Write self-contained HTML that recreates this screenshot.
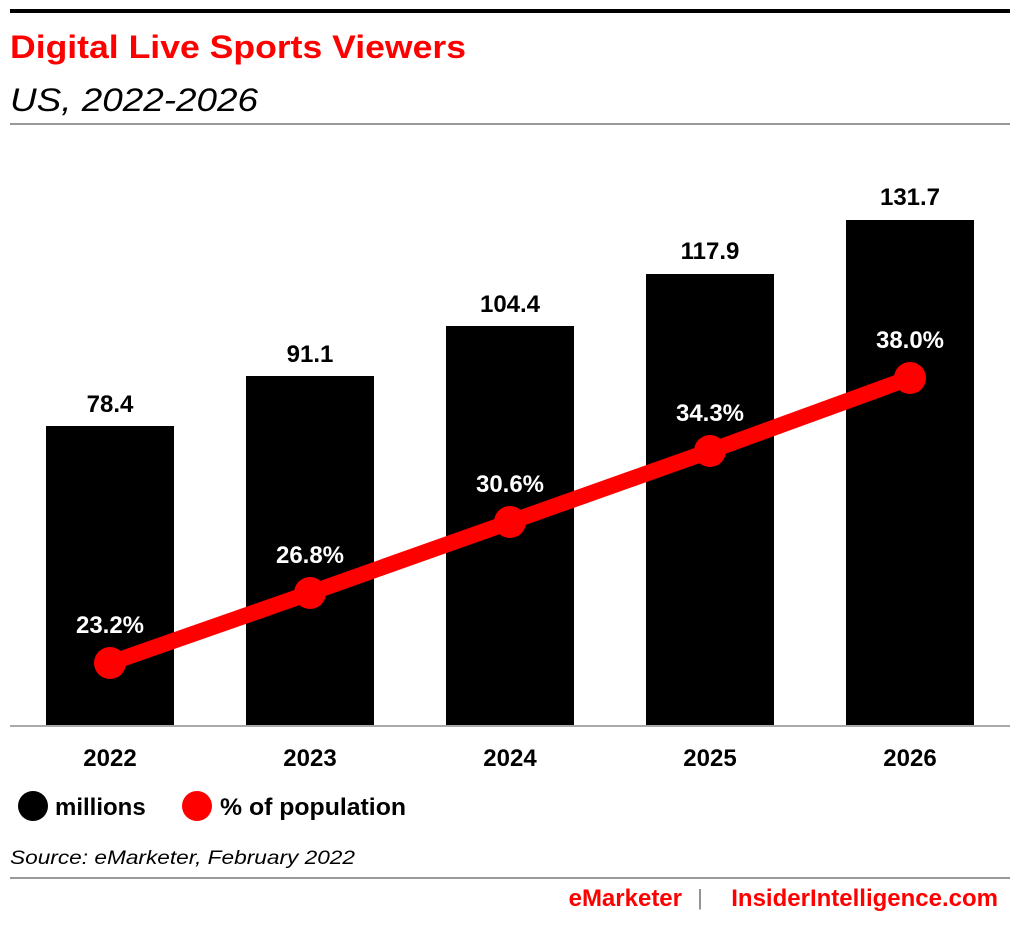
<!DOCTYPE html>
<html><head><meta charset="utf-8"><style>
body{margin:0;background:#fff;width:1020px;height:920px;overflow:hidden;font-family:"Liberation Sans",sans-serif;}
</style></head><body>
<svg width="1020" height="920" xmlns="http://www.w3.org/2000/svg" font-family="Liberation Sans, sans-serif">
<rect x="10" y="9" width="1000" height="4" fill="#000"/>
<text x="10" y="58" font-size="32" font-weight="bold" fill="#ff0000" textLength="456" lengthAdjust="spacingAndGlyphs">Digital Live Sports Viewers</text>
<text x="10" y="111" font-size="32" font-style="italic" fill="#000" textLength="248" lengthAdjust="spacingAndGlyphs">US, 2022-2026</text>
<rect x="10" y="123" width="1000" height="2" fill="#999"/>
<g fill="#000">
<rect x="46" y="426" width="128" height="300"/>
<rect x="246" y="376" width="128" height="350"/>
<rect x="446" y="326" width="128" height="400"/>
<rect x="646" y="274" width="128" height="452"/>
<rect x="846" y="220" width="128" height="506"/>
</g>
<rect x="10" y="725" width="1000" height="2" fill="#aaa"/>
<g font-size="24" font-weight="bold" text-anchor="middle" fill="#000">
<text x="110" y="412">78.4</text>
<text x="310" y="362">91.1</text>
<text x="510" y="312">104.4</text>
<text x="710" y="259">117.9</text>
<text x="910" y="205">131.7</text>
<text x="110" y="766">2022</text>
<text x="310" y="766">2023</text>
<text x="510" y="766">2024</text>
<text x="710" y="766">2025</text>
<text x="910" y="766">2026</text>
</g>
<polyline points="110,663 310,593 510,522 710,451 910,378" fill="none" stroke="#ff0000" stroke-width="16" stroke-linejoin="round"/>
<g fill="#ff0000">
<circle cx="110" cy="663" r="16"/><circle cx="310" cy="593" r="16"/><circle cx="510" cy="522" r="16"/><circle cx="710" cy="451" r="16"/><circle cx="910" cy="378" r="16"/>
</g>
<g font-size="24" font-weight="bold" text-anchor="middle" fill="#fff">
<text x="110" y="633">23.2%</text>
<text x="310" y="563">26.8%</text>
<text x="510" y="492">30.6%</text>
<text x="710" y="421">34.3%</text>
<text x="910" y="348">38.0%</text>
</g>
<circle cx="33" cy="806" r="15" fill="#000"/>
<text x="55" y="815" font-size="24" font-weight="bold">millions</text>
<circle cx="197" cy="806" r="15" fill="#ff0000"/>
<text x="220" y="815" font-size="24" font-weight="bold" textLength="186" lengthAdjust="spacingAndGlyphs">% of population</text>
<text x="10" y="864" font-size="19" font-style="italic" textLength="345" lengthAdjust="spacingAndGlyphs">Source: eMarketer, February 2022</text>
<rect x="10" y="877" width="1000" height="2" fill="#999"/>
<text x="682" y="906" font-size="24" font-weight="bold" fill="#ff0000" text-anchor="end">eMarketer</text>
<text x="700" y="905" font-size="22" fill="#888" text-anchor="middle">|</text>
<text x="998" y="906" font-size="24" font-weight="bold" fill="#ff0000" text-anchor="end">InsiderIntelligence.com</text>
</svg>
</body></html>
